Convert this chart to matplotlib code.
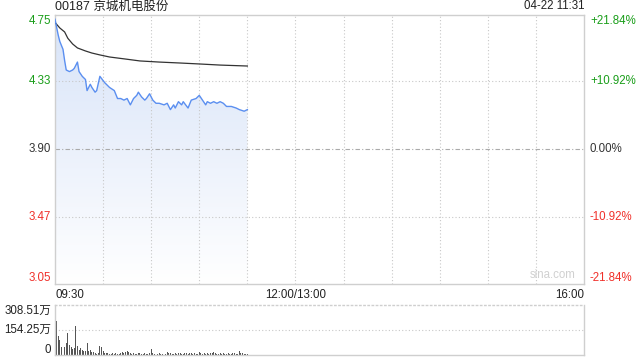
import numpy as np
import matplotlib
matplotlib.use('Agg')
import matplotlib.pyplot as plt
from matplotlib.colors import LinearSegmentedColormap

plt.rcParams['font.family'] = ['Liberation Sans', 'Noto Sans CJK SC', 'DejaVu Sans']

title = '00187 京城机电股份'
stamp = '04-22 11:31'
prev_close = 3.90
price_ticks = [4.75, 4.33, 3.90, 3.47, 3.05]
pct_labels = ['+21.84%', '+10.92%', '0.00%', '-10.92%', '-21.84%']
vol_ticks = [308.51, 154.25, 0]
vol_labels = ['308.51万', '154.25万', '0']

# minutes since 09:30 (lunch break removed)
minutes = [0, 2, 3, 5, 6, 7, 9, 11, 12, 14, 15, 17, 19, 20, 22, 23, 25, 26, 28, 31,
           32, 34, 37, 39, 41, 43, 45, 47, 49, 51, 52, 54, 56, 57, 59, 61, 63, 65, 68, 70,
           72, 74, 75, 77, 79, 80, 83, 85, 88, 90, 92, 94, 95, 97, 99, 101, 103, 105, 107, 110,
           113, 115, 118, 120]
price = [4.72, 4.62, 4.58, 4.53, 4.46, 4.40, 4.39, 4.40, 4.41, 4.45, 4.39, 4.36, 4.34, 4.27, 4.31, 4.29, 4.26, 4.27, 4.36, 4.32,
         4.31, 4.29, 4.27, 4.22, 4.22, 4.21, 4.22, 4.18, 4.22, 4.24, 4.26, 4.23, 4.21, 4.22, 4.25, 4.21, 4.19, 4.19, 4.18, 4.19,
         4.15, 4.18, 4.16, 4.20, 4.18, 4.20, 4.16, 4.21, 4.22, 4.24, 4.21, 4.18, 4.20, 4.19, 4.20, 4.19, 4.20, 4.19, 4.17, 4.17,
         4.16, 4.15, 4.14, 4.15]
avg_minutes = [0, 3, 6, 8, 11, 14, 19, 23, 28, 34, 44, 53, 65, 78, 90, 103, 120]
avg_price = [4.70, 4.665, 4.64, 4.60, 4.564, 4.539, 4.52, 4.507, 4.495, 4.482, 4.469, 4.457, 4.45, 4.444, 4.438, 4.431, 4.425]

# volume per minute, 万
vol = [308, 210, 117, 92, 49, 49, 51, 74, 136, 62, 49, 37, 43, 179, 55, 31, 43, 31, 25, 25,
       74, 25, 31, 18, 18, 12, 8, 12, 55, 49, 25, 12, 10, 14, 8, 6, 10, 8, 12, 6,
       8, 14, 18, 12, 20, 25, 18, 10, 8, 12, 6, 8, 10, 12, 6, 8, 10, 8, 6, 12,
       37, 10, 8, 6, 8, 10, 6, 8, 12, 8, 18, 10, 12, 8, 6, 10, 8, 12, 10, 6,
       8, 10, 12, 8, 14, 10, 8, 12, 6, 8, 18, 10, 8, 12, 6, 10, 8, 12, 14, 18,
       10, 8, 6, 10, 8, 12, 6, 8, 10, 6, 8, 10, 12, 8, 6, 25, 14, 10, 8, 6, 8]

green = '#1a9e1a'
red = '#f0302a'
grid_c = '#c8c8c8'
frame_c = '#cfcfcf'
fs = 8.3
W, H = 640, 360

fig = plt.figure(figsize=(6.4, 3.6), dpi=100)
ax = fig.add_axes([55/W, 1-284/H, 529/W, 269.5/H])
vax = fig.add_axes([55/W, 1-355/H, 529/W, 50/H])

lo, hi = price_ticks[-1], price_ticks[0]
ax.set_xlim(0, 330)
ax.set_ylim(lo, hi)

# gradient fill under the price line
poly = ax.fill_between(minutes, price, lo, color='none', lw=0)
grad = np.linspace(0, 1, 256).reshape(-1, 1)
cm = LinearSegmentedColormap.from_list('g', ['#ffffff', '#d7e3f8'])
im = ax.imshow(grad, cmap=cm, extent=[0, 330, lo, hi], origin='lower', aspect='auto', zorder=1)
im.set_clip_path(poly.get_paths()[0], transform=ax.transData)

for m in range(30, 330, 30):
    ax.axvline(m, color=grid_c, lw=0.8, ls=(0, (1, 2)), zorder=2)
for p in price_ticks[1:-1]:
    if p == prev_close:
        ax.axhline(p, color='#aaaaaa', lw=0.8, ls=(0, (4, 2, 1, 2)), zorder=2)
    else:
        ax.axhline(p, color=grid_c, lw=0.8, ls=(0, (1, 2)), zorder=2)

ax.plot(avg_minutes, avg_price, color='#333333', lw=0.9, zorder=3)
ax.plot(minutes, price, color='#5b8ff0', lw=1.0, zorder=3)

ax.set_xticks([])
ax.set_yticks([])
for s in ax.spines.values():
    s.set_color(frame_c)
    s.set_linewidth(1)

colors = [green, green, '#333333', red, red]
offs = [-6, 0, 0, 0, 6]
for p, pc, c, o in zip(price_ticks, pct_labels, colors, offs):
    ax.annotate('%.2f' % p, (0, p), xycoords=('axes fraction', 'data'), xytext=(-4, o),
                textcoords='offset pixels', ha='right', va='center', fontsize=fs, color=c)
    ax.annotate(pc, (1, p), xycoords=('axes fraction', 'data'), xytext=(6, o),
                textcoords='offset pixels', ha='left', va='center', fontsize=fs, color=c)

ax.text(0, 1.008, title, transform=ax.transAxes, ha='left', va='bottom', fontsize=9, color='#222222')
ax.text(1, 1.008, stamp, transform=ax.transAxes, ha='right', va='bottom', fontsize=fs, color='#222222')
ax.text(0.985, 0.01, 'sina.com', transform=ax.transAxes, ha='right', va='bottom', fontsize=fs, color='#d0d0d0')

for xv, lab, ha in [(0, '09:30', 'left'), (150, '12:00/13:00', 'center'), (330, '16:00', 'right')]:
    ax.annotate(lab, (xv, lo), xycoords='data', xytext=(0, -5), textcoords='offset pixels',
                ha=ha, va='top', fontsize=fs, color='#222222')

# volume
vax.bar(np.arange(len(vol)), vol, width=0.6, color='#555555', zorder=2)
vax.set_xlim(0, 330)
vax.set_ylim(0, vol_ticks[0])
vax.axhline(vol_ticks[1], color=grid_c, lw=0.8, ls=(0, (1, 2)), zorder=0)
vax.set_xticks([])
vax.set_yticks([])
vax.spines['top'].set_linestyle((0, (1, 2)))
for s in vax.spines.values():
    s.set_color(frame_c)
    s.set_linewidth(1)
for v, lab, o in zip(vol_ticks, vol_labels, [-6, 0, 5]):
    vax.annotate(lab, (0, v), xycoords=('axes fraction', 'data'), xytext=(-4, o),
                 textcoords='offset pixels', ha='right', va='center', fontsize=fs, color='#222222')

fig.savefig('out.png', dpi=100)
